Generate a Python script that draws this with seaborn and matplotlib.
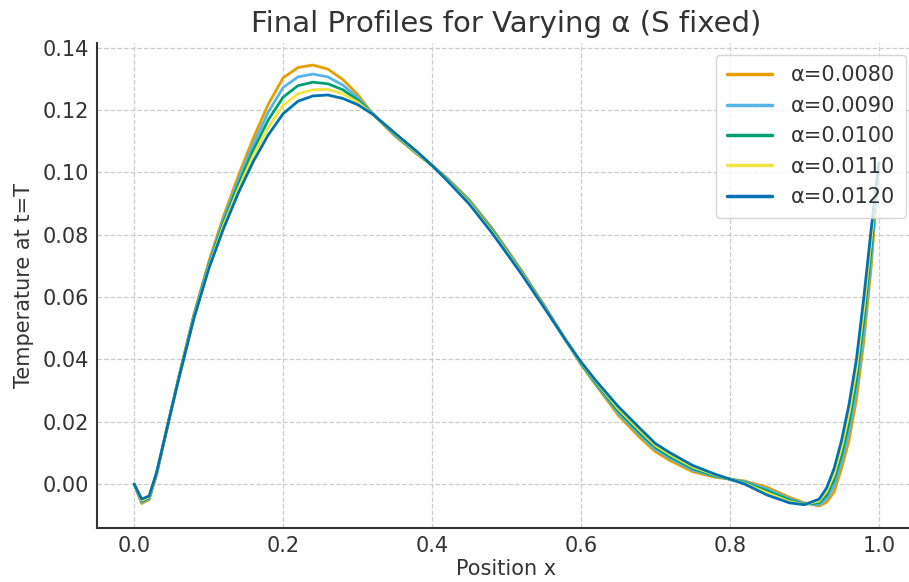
import numpy as np
import pandas as pd
import matplotlib
matplotlib.use("Agg")
import matplotlib.pyplot as plt
import seaborn as sns

x_pos = [0.00, 0.01, 0.02, 0.03, 0.04, 0.05, 0.06, 0.08, 0.10, 0.12, 0.14, 0.16,
         0.18, 0.20, 0.22, 0.24, 0.26, 0.28, 0.30, 0.32, 0.35, 0.38, 0.40, 0.42,
         0.45, 0.48, 0.50, 0.52, 0.55, 0.58, 0.60, 0.62, 0.65, 0.68, 0.70, 0.72,
         0.75, 0.78, 0.80, 0.82, 0.85, 0.88, 0.90, 0.92, 0.93, 0.94, 0.95, 0.96,
         0.97, 0.98, 0.99, 1.00]

labels = ["α=0.0080", "α=0.0090", "α=0.0100", "α=0.0110", "α=0.0120"]

temp_a0080 = [0.0, -0.0062, -0.0050, 0.0030, 0.0138, 0.0242, 0.0345, 0.0543, 0.0712, 0.0860,
              0.0990, 0.1110, 0.1218, 0.1303, 0.1336, 0.1344, 0.1331, 0.1298, 0.1250, 0.1188,
              0.1117, 0.1058, 0.1022, 0.0982, 0.0912, 0.0823, 0.0755, 0.0686, 0.0576, 0.0460,
              0.0384, 0.0318, 0.0221, 0.0147, 0.0104, 0.0075, 0.0040, 0.0022, 0.0016,
              0.0010, -0.0010, -0.0042, -0.0060, -0.0070, -0.0058, -0.0025, 0.0050, 0.0140,
              0.0270, 0.0460, 0.0700, 0.1030]
temp_a0090 = [0.0, -0.0058, -0.0047, 0.0032, 0.0138, 0.0242, 0.0344, 0.0540, 0.0706, 0.0850,
              0.0976, 0.1091, 0.1193, 0.1272, 0.1306, 0.1315, 0.1306, 0.1280, 0.1240, 0.1188,
              0.1119, 0.1060, 0.1022, 0.0980, 0.0909, 0.0819, 0.0752, 0.0683, 0.0574, 0.0460,
              0.0386, 0.0321, 0.0228, 0.0155, 0.0111, 0.0082, 0.0045, 0.0025, 0.0016,
              0.0008, -0.0016, -0.0047, -0.0062, -0.0066, -0.0047, -0.0005, 0.0072, 0.0168,
              0.0302, 0.0495, 0.0731, 0.1030]
temp_a0100 = [0.0, -0.0055, -0.0044, 0.0034, 0.0138, 0.0241, 0.0343, 0.0537, 0.0701, 0.0840,
              0.0962, 0.1072, 0.1168, 0.1241, 0.1278, 0.1289, 0.1284, 0.1265, 0.1232, 0.1188,
              0.1122, 0.1062, 0.1022, 0.0978, 0.0905, 0.0815, 0.0748, 0.0680, 0.0572, 0.0460,
              0.0388, 0.0325, 0.0235, 0.0162, 0.0118, 0.0088, 0.0050, 0.0027, 0.0016,
              0.0005, -0.0022, -0.0051, -0.0064, -0.0060, -0.0035, 0.0015, 0.0095, 0.0197,
              0.0335, 0.0530, 0.0762, 0.1030]
temp_a0110 = [0.0, -0.0052, -0.0041, 0.0035, 0.0138, 0.0241, 0.0341, 0.0533, 0.0695, 0.0830,
              0.0948, 0.1054, 0.1144, 0.1214, 0.1252, 0.1265, 0.1266, 0.1252, 0.1225, 0.1187,
              0.1124, 0.1063, 0.1022, 0.0976, 0.0902, 0.0811, 0.0745, 0.0677, 0.0570, 0.0460,
              0.0390, 0.0329, 0.0242, 0.0170, 0.0124, 0.0094, 0.0055, 0.0030, 0.0016,
              0.0002, -0.0028, -0.0056, -0.0065, -0.0054, -0.0023, 0.0032, 0.0117, 0.0226,
              0.0368, 0.0565, 0.0792, 0.1030]
temp_a0120 = [0.0, -0.0048, -0.0038, 0.0037, 0.0138, 0.0240, 0.0340, 0.0530, 0.0690, 0.0820,
              0.0935, 0.1035, 0.1120, 0.1188, 0.1228, 0.1245, 0.1248, 0.1237, 0.1217, 0.1187,
              0.1126, 0.1066, 0.1022, 0.0974, 0.0898, 0.0807, 0.0741, 0.0674, 0.0568, 0.0460,
              0.0392, 0.0332, 0.0249, 0.0177, 0.0130, 0.0100, 0.0060, 0.0032, 0.0016,
              0.0000, -0.0035, -0.0060, -0.0066, -0.0048, -0.0012, 0.0050, 0.0140, 0.0255,
              0.0400, 0.0600, 0.0822, 0.1030]

colors = ["#E69F00", "#56B4E9", "#009E73", "#F0E442", "#0072B2"]

series = [temp_a0080, temp_a0090, temp_a0100, temp_a0110, temp_a0120]
frames = []
for lab, vals in zip(labels, series):
    frames.append(pd.DataFrame({"x": x_pos, "T": vals, "alpha": lab}))
df = pd.concat(frames, ignore_index=True)

sns.set_theme(style="white")
plt.rcParams["font.family"] = ["DejaVu Sans"]
text_c = "#333333"
plt.rcParams.update({
    "text.color": text_c,
    "axes.labelcolor": text_c,
    "xtick.color": text_c,
    "ytick.color": text_c,
})

fig = plt.figure(figsize=(9.09, 5.82), dpi=100)
ax = fig.add_axes([97 / 909, 1 - 528 / 582, (916 - 97) / 909, (528 - 43) / 582])

sns.lineplot(data=df, x="x", y="T", hue="alpha", hue_order=labels,
             palette=colors, linewidth=2.0, errorbar=None, ax=ax, sort=False)

ax.set_xticks([0.0, 0.2, 0.4, 0.6, 0.8, 1.0])
ax.set_yticks([0.00, 0.02, 0.04, 0.06, 0.08, 0.10, 0.12, 0.14])
ax.yaxis.set_major_formatter(matplotlib.ticker.FormatStrFormatter("%.2f"))
ax.xaxis.set_major_formatter(matplotlib.ticker.FormatStrFormatter("%.1f"))
ax.grid(True, linestyle="--", color="#cccccc", linewidth=0.9)
for s in ["top", "right"]:
    ax.spines[s].set_visible(False)
for s in ["left", "bottom"]:
    ax.spines[s].set_color("#333333")
    ax.spines[s].set_linewidth(1.5)
ax.tick_params(axis="both", direction="in", length=5, width=1.2,
               labelsize=15, colors=text_c, pad=6)

ax.set_title("Final Profiles for Varying α (S fixed)", fontsize=21, color=text_c, pad=8)
ax.set_xlabel("Position x", fontsize=15, labelpad=2)
ax.set_ylabel("Temperature at t=T", fontsize=15, labelpad=6)

leg = ax.legend(loc="upper right", bbox_to_anchor=(906 / 909, 1 - 55 / 582),
                bbox_transform=fig.transFigure, borderaxespad=0, fontsize=15,
                frameon=True, framealpha=0.8, edgecolor="#cccccc",
                labelspacing=0.5, handlelength=2.2, handletextpad=0.9,
                borderpad=0.5, title=None)
for line in leg.get_lines():
    line.set_linewidth(2.5)

fig.savefig("out.png", dpi=100)
